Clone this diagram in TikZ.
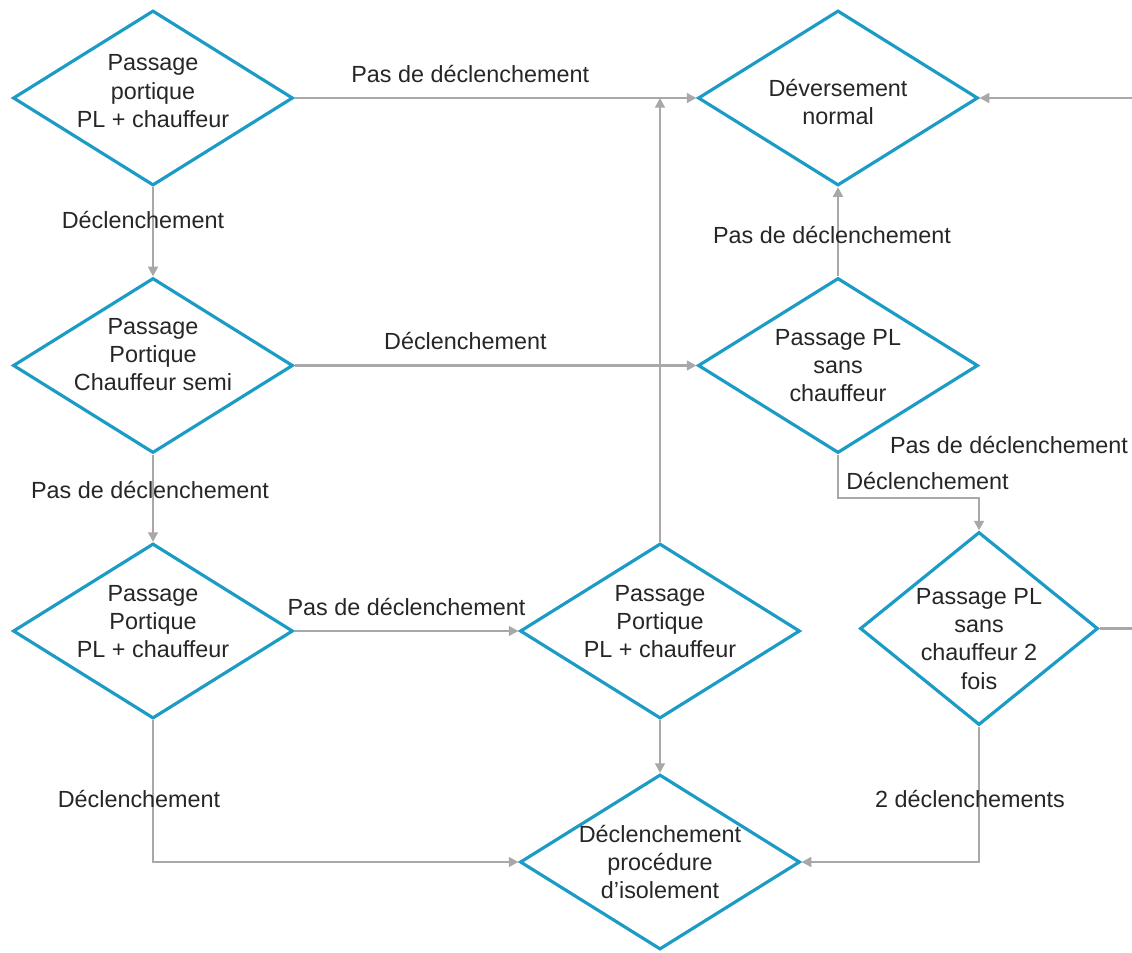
\documentclass[tikz,border=0pt]{standalone}
\usepackage{fontspec}
\setmainfont{Liberation Sans}
\usetikzlibrary{shapes.geometric,arrows.meta}
\definecolor{dblue}{HTML}{1B9BC6}
\definecolor{lgray}{HTML}{A8A8A8}
\definecolor{ink}{HTML}{262626}
\begin{document}
\begin{tikzpicture}[font=\fontsize{13.3}{16}\selectfont,text=ink,
dec/.style={diamond,aspect=1.6,draw=dblue,line width=1.8pt,inner sep=-6pt,align=center,minimum width=5.6cm,minimum height=3.5cm},
flow/.style={draw=lgray,line width=1.5pt,-{Triangle[length=5.5pt,width=5.5pt]}},
lbl/.style={inner sep=2pt}]
\useasboundingbox(0,0)rectangle(22.64,19.04);
\clip(0,0)rectangle(22.64,19.04);
\node[dec,text depth=8pt](pp1)at(3.06,17.08){Passage\\portique\\PL + chauffeur};
\node[dec](norm)at(16.76,17.08){\rule{0pt}{14.2pt}Déversement\\normal};
\node[dec,text depth=12.4pt](semi)at(3.06,11.73){Passage\\Portique\\Chauffeur semi};
\node[dec](sans)at(16.76,11.73){Passage PL\\sans\\chauffeur};
\node[dec,text depth=11.3pt](pp2)at(3.06,6.42){Passage\\Portique\\PL + chauffeur};
\node[dec,text depth=11.3pt](pp3)at(13.2,6.42){Passage\\Portique\\PL + chauffeur};
\node[dec,aspect=1.2,minimum width=4.76cm,minimum height=3.86cm](sans2)at(19.58,6.47){\rule{0pt}{21pt}Passage PL\\sans\\chauffeur 2\\fois};
\node[dec](iso)at(13.2,1.8){Déclenchement\\procédure\\d'isolement};
\draw[flow](pp1)--node[lbl,above=6pt,pos=.437]{Pas de déclenchement}(norm);
\draw[flow](pp1)--node[lbl,pos=.37,xshift=-.2cm]{Déclenchement}(semi);
\draw[flow](semi)--node[lbl,above=6pt,pos=.425]{Déclenchement}(sans);
\draw[flow](sans)--node[lbl,pos=.46,xshift=-.12cm]{Pas de déclenchement}(norm);
\draw[flow](semi)--node[lbl,pos=.41,xshift=-.06cm]{Pas de déclenchement}(pp2);
\draw[flow](pp2)--node[lbl,above=6pt]{Pas de déclenchement}(pp3);
\draw[flow](pp2.south)|-node[lbl,pos=.277,xshift=-.28cm]{Déclenchement}(iso.west);
\draw[flow](pp3.north)--(pp3.north|-pp1.east);
\draw[flow](pp3)--(iso);
\draw[flow](sans.south)--++(0,-.87)node[lbl,above right=2pt]{Déclenchement}-|(sans2.north);
\draw[flow](sans2.east)--++(1.5,0)|-(norm.east)node[lbl]at(20.18,10.14){Pas de déclenchement};
\draw[flow](sans2.south)|-node[lbl,pos=.266,xshift=-.18cm]{2 déclenchements}(iso.east);
\end{tikzpicture}
\end{document}
